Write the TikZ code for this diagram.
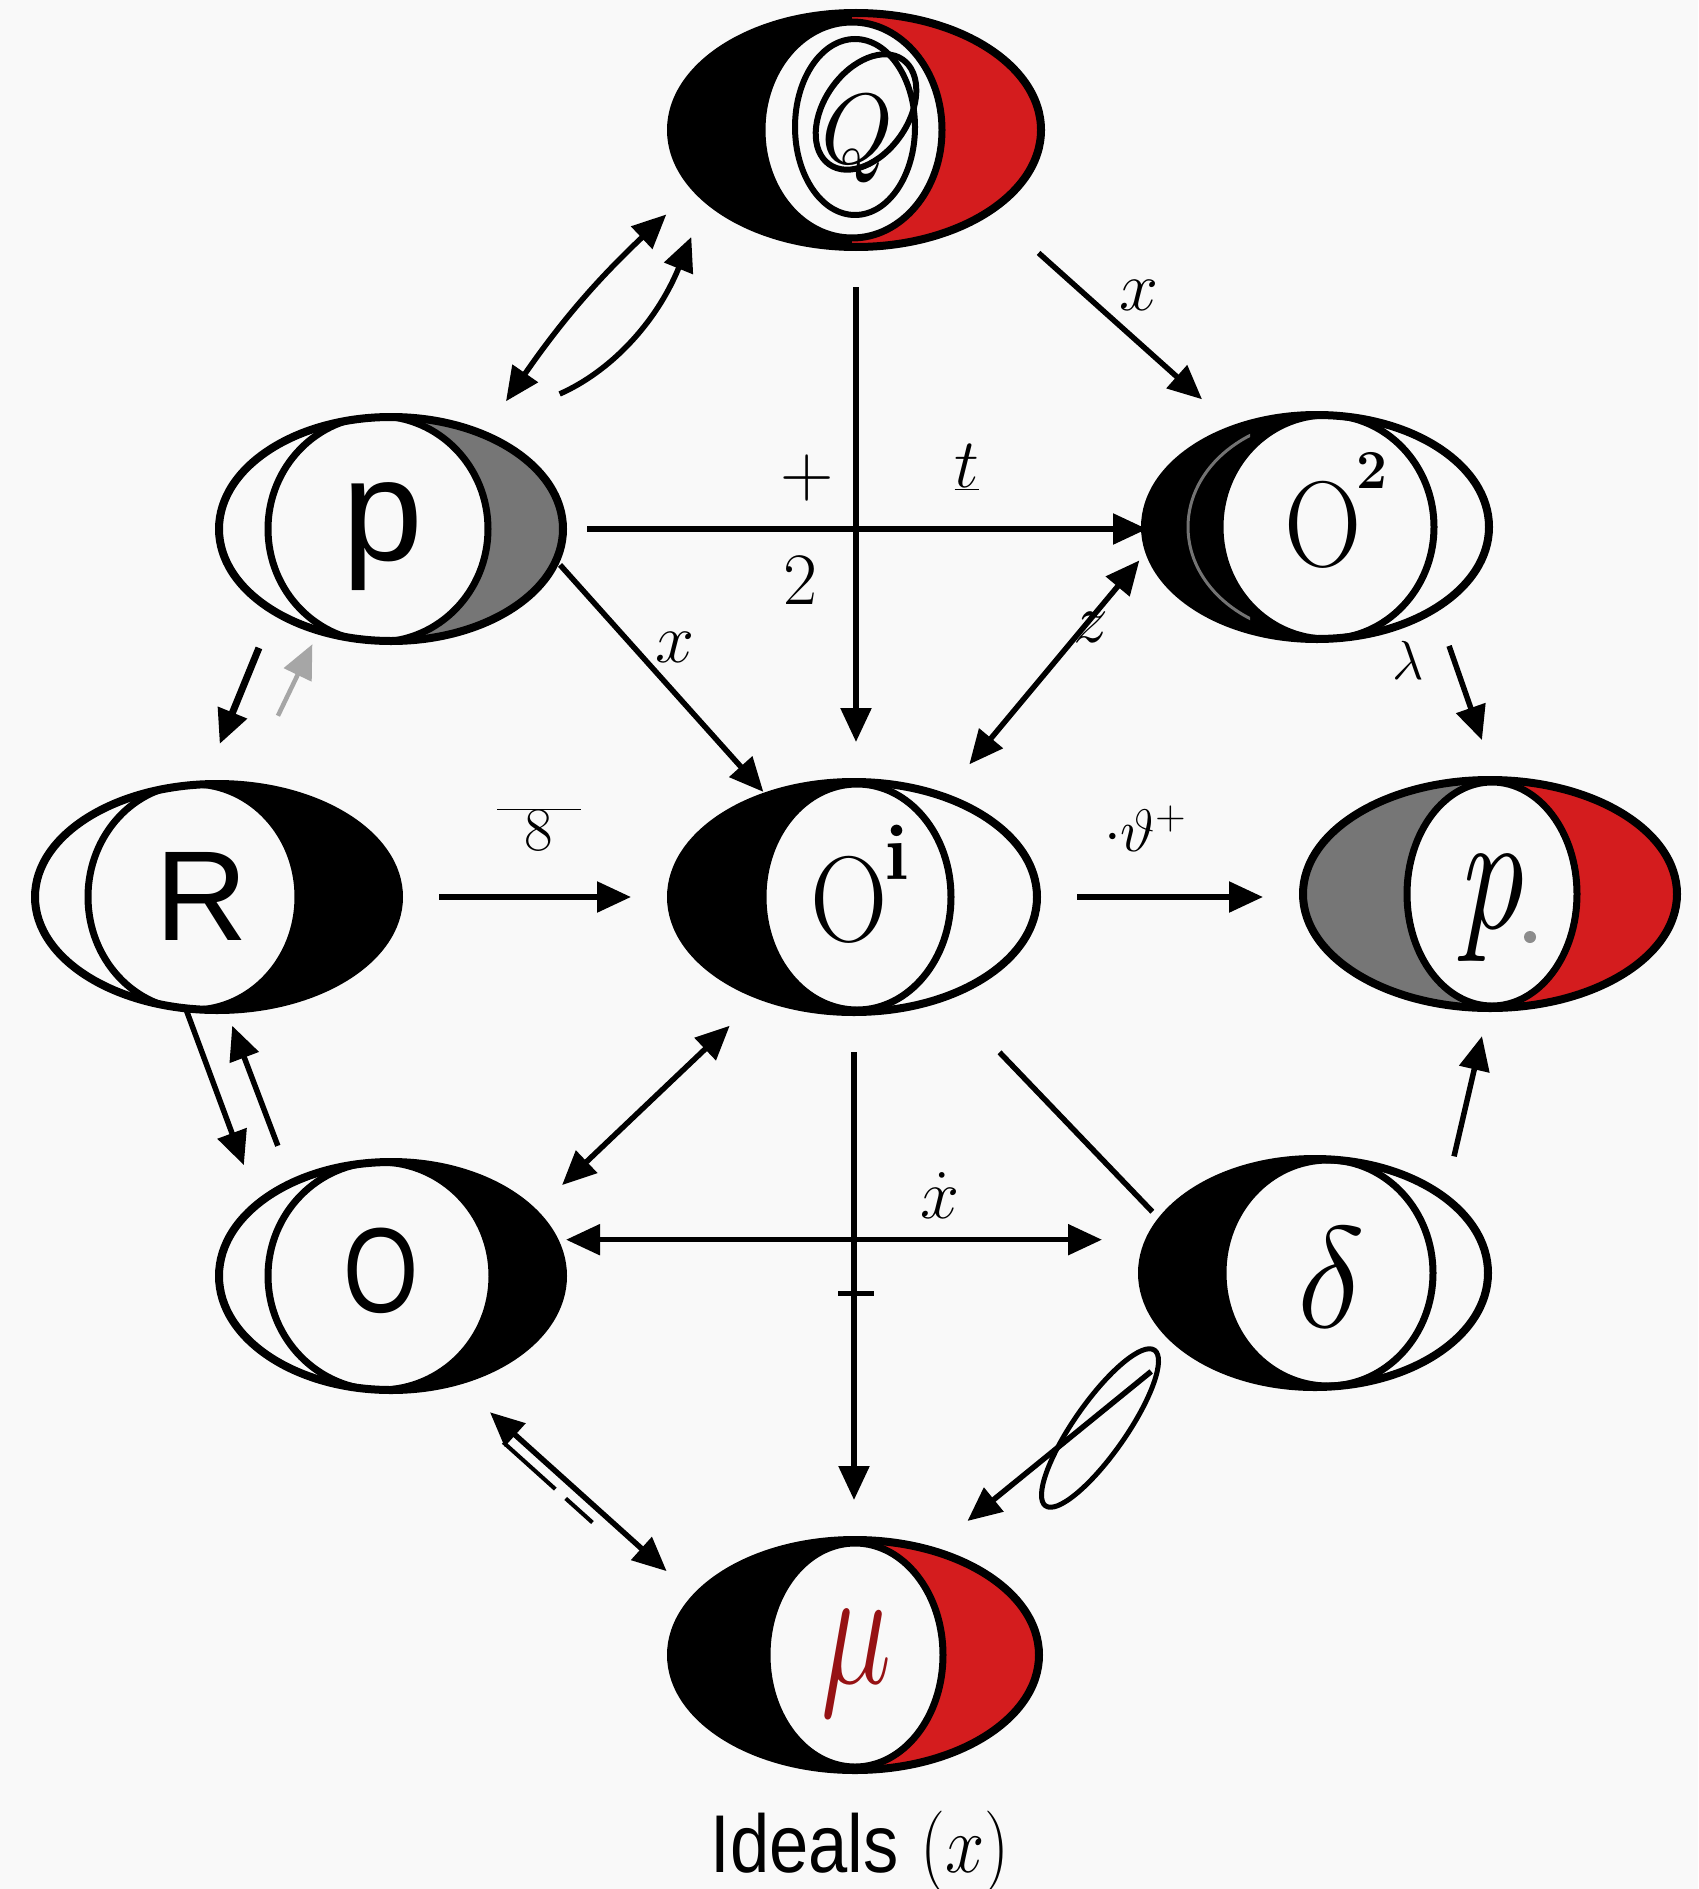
\RequirePackage{fix-cm}
\documentclass[tikz,border=0pt]{standalone}
\usepackage{fontspec}
\usepackage{graphicx}
\usetikzlibrary{arrows.meta,shapes.geometric,calc}
\newfontfamily\hv{Liberation Sans}
\newcommand\FSz[1]{\fontsize{#1}{#1}\selectfont}
\definecolor{bg}{RGB}{249,249,249}
\definecolor{eyered}{RGB}{212,28,30}
\definecolor{eyegray}{RGB}{118,118,118}
\definecolor{mured}{RGB}{150,18,20}
% cx cy a b icx ia ib leftfill rightfill
\newcommand\drawEye[9]{%
  \begin{scope}
    \clip (#1,#2) ellipse [x radius=#3pt, y radius=#4pt];
    \fill[#8] (#1-#3-5,#2-#4-5) rectangle (#5,#2+#4+5);
    \fill[#9] (#5,#2-#4-5) rectangle (#1+#3+5,#2+#4+5);
    \fill[bg] (#5,#2) ellipse [x radius=#6pt, y radius=#7pt];
    \draw[line width=7pt] (#5,#2) ellipse [x radius=#6pt, y radius=#7pt];
  \end{scope}
  \draw[line width=8pt] (#1,#2) ellipse [x radius=#3pt, y radius=#4pt];
}
\tikzset{
  hit/.style={ellipse, inner sep=0pt, outer sep=0pt},
  conn/.style={line width=5.5pt, -{Triangle[length=34pt,width=30pt]}},
  conntwo/.style={line width=5.5pt, {Triangle[length=34pt,width=30pt]}-{Triangle[length=34pt,width=30pt]}},
  plain/.style={line width=5.5pt},
  lbl/.style={inner sep=0pt, outer sep=0pt}
}
\begin{document}
\begin{tikzpicture}[x=1pt, y=-1pt, line join=round]
\useasboundingbox (0,0) rectangle (1698,1889);
\fill[bg] (0,0) rectangle (1698,1889);

% ---- eye shapes ----
\drawEye{856}{130}{185}{117}{852}{90}{108}{black}{eyered}
\drawEye{391}{529}{172}{112}{378}{110}{113}{bg}{eyegray}
\drawEye{1317}{527}{172}{112}{1327}{107}{112}{black}{bg}
\begin{scope}
  \clip (1140,410) rectangle (1250,645);
  \draw[line width=3pt, black!55] (1320,527) ellipse [x radius=132pt, y radius=108pt];
\end{scope}
\drawEye{217}{897}{182}{113}{193}{105}{113}{bg}{black}
\drawEye{854}{897}{183}{115}{857}{94}{113}{black}{bg}
\drawEye{1490}{894}{187}{114}{1492}{85}{112}{eyegray}{eyered}
\drawEye{391}{1276}{172}{114}{380}{112}{114}{bg}{black}
\drawEye{1315}{1273}{173}{114}{1328}{105}{113}{black}{bg}
\drawEye{855}{1655}{184}{115}{855}{88}{112}{black}{eyered}

% ---- connection nodes (with gap) ----
\node[hit, minimum width=450pt, minimum height=314pt] (Q) at (856,130) {};
\node[hit, minimum width=424pt, minimum height=304pt] (pL) at (391,529) {};
\node[hit, minimum width=424pt, minimum height=304pt] (O2) at (1317,527) {};
\node[hit, minimum width=444pt, minimum height=306pt] (R) at (217,897) {};
\node[hit, minimum width=446pt, minimum height=310pt] (Oi) at (854,897) {};
\node[hit, minimum width=454pt, minimum height=308pt] (pR) at (1490,894) {};
\node[hit, minimum width=424pt, minimum height=308pt] (oL) at (391,1276) {};
\node[hit, minimum width=426pt, minimum height=308pt] (dR) at (1315,1273) {};
\node[hit, minimum width=448pt, minimum height=310pt] (mu) at (855,1655) {};

% ---- node texts ----
\draw[line width=6pt] (855,127) ellipse [x radius=60pt, y radius=88pt];
\draw[line width=6pt, rotate around={-35:(866,112)}] (866,112) ellipse [x radius=42pt, y radius=64pt];
\node[lbl] (tQ) at (850,138) {\FSz{100}\textit{Q}};
\node[lbl] (tpL) at (383,537) {\hv\FSz{145}p};
\node[lbl] (tO2) at (1323,525) {\FSz{122}\scalebox{0.88}[1]{O}};
\node[lbl] (tO2s) at (1372,470) {\FSz{55}\bfseries 2};
\node[lbl] (tR) at (202,896) {\hv\FSz{128}R};
\node[lbl] (tOi) at (849,900) {\FSz{122}\scalebox{0.88}[1]{O}};
\node[lbl] (tOis) at (897,852) {\FSz{80}\bfseries i};
\node[lbl] (tpR) at (1490,907) {\FSz{170}\scalebox{0.78}[1]{\textit{p}}};
\fill[black!45] (1530,937) circle [radius=6pt];
\node[lbl] (toL) at (381,1271) {\hv\FSz{121}\scalebox{0.8}[1]{O}};
\node[lbl] (tdR) at (1331,1277) {\FSz{144}$\delta$};
\node[lbl, text=mured] (tmu) at (857,1663) {\FSz{170}\scalebox{0.7}[1]{$\mu$}};

% ---- connectors ----
\draw[conntwo] (pL.48) to[bend left=6] (Q.204);
\draw[conn, shorten <=40pt] (pL.42) to[bend right=22] (Q.-147);
\draw[conn] (Q.south) -- (Q.south |- Oi.north);
\draw[conn, shorten <=24pt] (Q.-33.5) -- (O2.132);
\draw[conn, shorten <=-16pt, shorten >=-42pt] (pL.east) -- (pL.east -| O2.west);
\draw[conn, shorten <=-36pt, shorten >=-37pt] (pL.-18.6) -- (Oi.131.8);
\draw[conntwo, shorten <=-30pt] (O2.196.4) -- (Oi.49.1);
\draw[conn] (O2.-42.4) -- (pR.93.1);
\draw[conn, line width=7pt] (pL.222.8) -- (R.89.6);
\draw[conn, black!35, line width=4.5pt, shorten <=35pt, shorten >=-25pt] (R.73.9) -- (pL.237.8);
\draw[conn] (R.east) -- (R.east -| Oi.west);
\draw[conn] (Oi.east) -- (Oi.east -| pR.west);
\draw[conn, shorten <=-44pt] (R.-96.3) -- (oL.143.4);
\draw[conn, shorten >=-25pt] (oL.131) -- (R.-81.9);
\draw[conntwo] (Oi.-134.2) -- (oL.28.5);
\draw[conntwo, shorten <=-31pt] (oL.10.4) -- (oL.10.4 -| dR.west);
\draw[conn] (Oi.south) -- (Oi.south |- mu.north);
\coordinate (tick) at (856,1293);
\draw[line width=5pt] (tick) ++(-18,0) -- ++(36,0);
\draw[plain, shorten <=35pt, shorten >=-27pt] (Oi.-47.5) -- (dR.156.7);
\draw[conn, shorten >=-12pt] (dR.40.3) -- (pR.-94);
\draw[conntwo] (oL.-54.6) -- (mu.156.2);
\draw[line width=4pt, dash pattern=on 70pt off 14pt on 40pt off 200pt]
  ($(oL.-54.6)!30pt!(mu.156.2)+(-9,10)$) -- ($(oL.-54.6)!150pt!(mu.156.2)+(-9,10)$);
\draw[conn] (dR.-149) -- (mu.50.5);
\draw[line width=5pt, rotate around={55:(1100,1428)}] (1100,1428) ellipse [x radius=95pt, y radius=26pt];

% ---- labels ----
\node[lbl] (lx1) at (1139,295) {\FSz{70}$x$};
\node[lbl] (lplus) at (807,478) {\FSz{74}$+$};
\node[lbl] (lt) at (967,467) {\FSz{70}$\underline{t}$};
\node[lbl] (ltwo) at (800,580) {\FSz{74}2};
\node[lbl] (lx2) at (675,647) {\FSz{70}$x$};
\node[lbl] (lz) at (1091,627) {\FSz{70}$z$};
\node[lbl] (llam) at (1408,660) {\FSz{55}$\lambda$};
\node[lbl] (leight) at (539,830) {\FSz{62}$\overline{\;\,8\;\,}$};
\node[lbl] (lth) at (1145,829) {\FSz{60}$\cdot\vartheta^{+}$};
\node[lbl] (lxd) at (940,1196) {\FSz{70}$\dot{x}$};
\node[lbl] (title) at (860,1852) {\FSz{82}\scalebox{0.86}[1]{{\hv Ideals} $(x)$}};
\end{tikzpicture}
\end{document}
